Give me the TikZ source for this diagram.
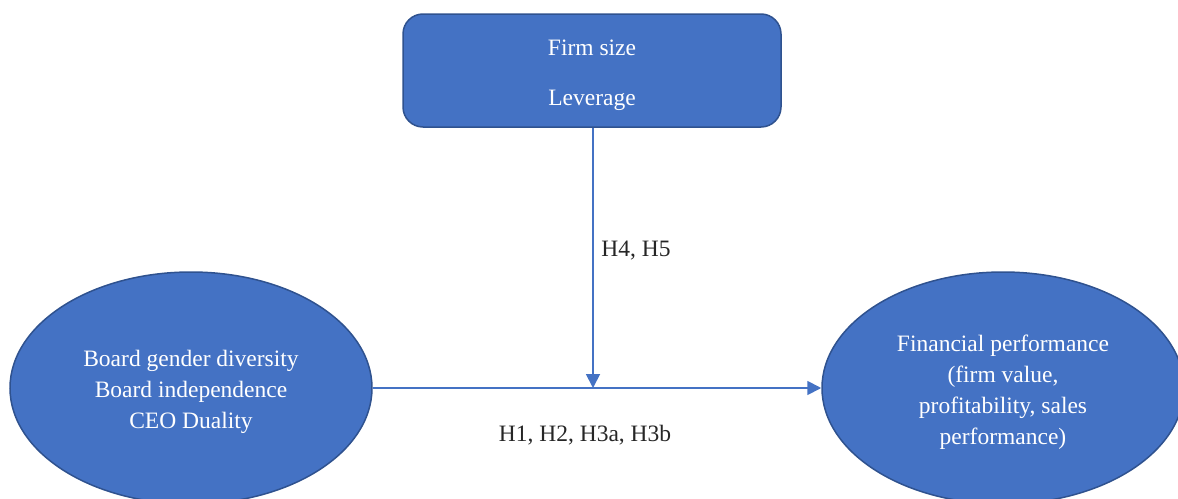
\documentclass[tikz,border=0pt]{standalone}
\usepackage{fontspec}
\setmainfont{Liberation Serif}
\usetikzlibrary{shapes.geometric,arrows.meta}
\definecolor{fillblue}{HTML}{4472C4}
\definecolor{edgeblue}{HTML}{2F528F}
\tikzset{
  blueshape/.style={fill=fillblue,draw=edgeblue,line width=1.5pt,inner sep=0pt},
  intext/.style={text=white,align=center,inner sep=0pt,font=\fontsize{23.5}{31}\selectfont},
  ellbox/.style={blueshape,ellipse,minimum width=362pt,minimum height=232pt},
  rectbox/.style={blueshape,rectangle,rounded corners=20pt,minimum width=378pt,minimum height=113pt},
  conn/.style={draw=fillblue,line width=1.8pt,-{Triangle[length=14pt,width=14pt]}},
  lab/.style={text=black!85,font=\fontsize{23.5}{28}\selectfont,inner sep=0pt}
}
\begin{document}
\begin{tikzpicture}[x=1pt,y=-1pt]
\useasboundingbox (0,0) rectangle (1178,498);
\clip (0,0) rectangle (1178,498);
\node[rectbox] (ctrl) at (592,70.5) {};
\node[intext] (ctrlt) at ([yshift=-4.5pt]ctrl.center) {Firm size\\[19pt]Leverage};
\node[ellbox] (iv) at (191,388) {};
\node[intext] (ivt) at ([yshift=-4pt]iv.center) {Board gender diversity\\Board independence\\CEO Duality};
\node[ellbox] (dv) at (1003,388) {};
\node[intext] (dvt) at ([yshift=-4pt]dv.center) {Financial performance\\(firm value,\\profitability, sales\\performance)};
\coordinate (mid) at (593,388);
\draw[conn] (iv.east) -- (dv.west);
\draw[conn] (ctrl.south -| mid) -- (mid);
\node[lab] (h45) at (636,251) {H4, H5};
\node[lab] (h13) at (585,435) {H1, H2, H3a, H3b};
\end{tikzpicture}
\end{document}
